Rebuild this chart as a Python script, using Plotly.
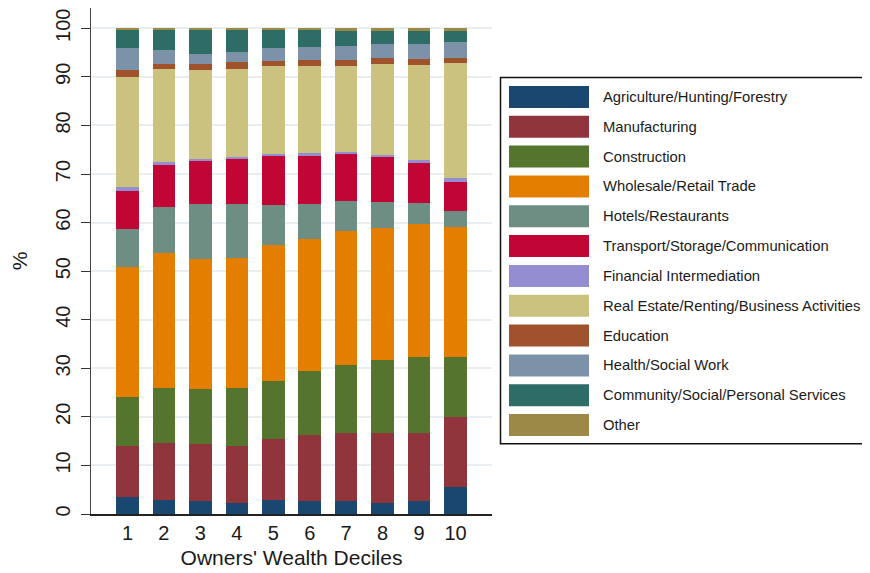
import plotly.graph_objects as go

deciles = [1, 2, 3, 4, 5, 6, 7, 8, 9, 10]

sectors = [
    "Agriculture/Hunting/Forestry",
    "Manufacturing",
    "Construction",
    "Wholesale/Retail Trade",
    "Hotels/Restaurants",
    "Transport/Storage/Communication",
    "Financial Intermediation",
    "Real Estate/Renting/Business Activities",
    "Education",
    "Health/Social Work",
    "Community/Social/Personal Services",
    "Other",
]

colors = ["#1a476f", "#90353b", "#55752f", "#e37e00", "#6e8e84", "#c10534",
          "#938dd2", "#cac27e", "#a0522d", "#7b92a8", "#2d6d66", "#9c8847"]

agriculture   = [3.4, 2.9, 2.6, 2.3, 2.9, 2.7, 2.7, 2.3, 2.6, 5.6]
manufacturing = [10.5, 11.8, 11.9, 11.6, 12.6, 13.6, 13.9, 14.4, 14.1, 14.4]
construction  = [10.2, 11.3, 11.3, 12.1, 11.8, 13.2, 14.1, 15.1, 15.7, 12.3]
wholesale     = [26.8, 27.8, 26.7, 26.8, 28.0, 27.1, 27.6, 27.1, 27.3, 26.8]
hotels        = [7.8, 9.4, 11.4, 11.1, 8.4, 7.3, 6.2, 5.4, 4.4, 3.3]
transport     = [7.7, 8.7, 8.8, 9.2, 10.1, 9.8, 9.7, 9.2, 8.2, 6.0]
financial     = [0.9, 0.6, 0.4, 0.4, 0.3, 0.6, 0.3, 0.4, 0.6, 0.8]
real_estate   = [22.7, 19.1, 18.3, 18.1, 18.1, 17.9, 17.7, 18.7, 19.5, 23.7]
education     = [1.4, 1.1, 1.2, 1.5, 1.1, 1.3, 1.3, 1.2, 1.3, 0.9]
health        = [4.5, 2.8, 2.2, 2.1, 2.6, 2.6, 2.8, 2.9, 3.0, 3.3]
community     = [3.8, 4.2, 4.9, 4.5, 3.8, 3.6, 3.3, 2.9, 2.9, 2.3]
other         = [0.3, 0.3, 0.3, 0.3, 0.3, 0.3, 0.4, 0.4, 0.4, 0.6]

series = [agriculture, manufacturing, construction, wholesale, hotels, transport,
          financial, real_estate, education, health, community, other]

y_ticks = [0, 10, 20, 30, 40, 50, 60, 70, 80, 90, 100]

FONT = "Liberation Sans, Arial, sans-serif"
OFF = 8  # page body margin offset
W, H = 862, 565
ML, MR, MT = 91 - OFF, 378, 0
MB = H - (514.3 - OFF)
PW = W - ML - MR
PH = H - MT - MB

fig = go.Figure()
for name, vals, col in zip(sectors, series, colors):
    fig.add_trace(go.Bar(
        x=deciles, y=vals, name=name, marker_color=col,
        marker_line_width=0, width=0.62, showlegend=False,
    ))


def px_x(p):
    return (p - OFF - ML) / PW


def px_y(p):
    return (H - MB - (p - OFF)) / PH


shapes = []
annotations = []
# legend frame
shapes.append(dict(type="rect", xref="paper", yref="paper",
                   x0=px_x(500.5), x1=px_x(869), y0=px_y(444), y1=px_y(77.5),
                   line=dict(color="#111111", width=1.5), fillcolor="white", layer="above"))
row0, step = 97, 29.85
for i, (name, col) in enumerate(zip(sectors, colors)):
    cy = row0 + i * step
    shapes.append(dict(type="rect", xref="paper", yref="paper",
                       x0=px_x(509), x1=px_x(589), y0=px_y(cy + 11), y1=px_y(cy - 11),
                       line=dict(width=0), fillcolor=col, layer="above"))
    annotations.append(dict(xref="paper", yref="paper", x=px_x(601), y=px_y(cy),
                            text=name, showarrow=False, xanchor="left", yanchor="middle",
                            font=dict(family=FONT, size=14.8, color="#1a1a1a")))

fig.update_layout(
    width=W, height=H,
    margin=dict(l=ML, r=MR, t=MT, b=MB, pad=0),
    barmode="stack",
    bargap=0.38,
    paper_bgcolor="white",
    plot_bgcolor="white",
    font=dict(family=FONT, color="#1a1a1a"),
    shapes=shapes,
    annotations=annotations,
    showlegend=False,
)
fig.update_xaxes(
    range=[0, 11], tickvals=deciles, ticktext=[str(d) for d in deciles],
    showgrid=False, zeroline=False, showline=True, linecolor="#222222", linewidth=2,
    ticks="", tickfont=dict(size=20, family=FONT, color="#1a1a1a"),
    title=dict(text="Owners' Wealth Deciles", font=dict(size=21, family=FONT, color="#1a1a1a"), standoff=7),
)
fig.update_yaxes(
    range=[0, (514.3 - OFF) / 4.86], tickvals=y_ticks, ticktext=[str(t) for t in y_ticks],
    tickangle=-90, ticks="outside", ticklen=9, tickcolor="#333333", tickwidth=1.2,
    ticklabelstandoff=3,
    showgrid=True, gridcolor="#e8eef1", gridwidth=1.5, zeroline=False,
    showline=True, linecolor="#444444", linewidth=1.3,
    tickfont=dict(size=20, family=FONT, color="#1a1a1a"),
    title=dict(text="%", font=dict(size=21, family=FONT, color="#1a1a1a"), standoff=18),
)

fig.write_html("out.html")
